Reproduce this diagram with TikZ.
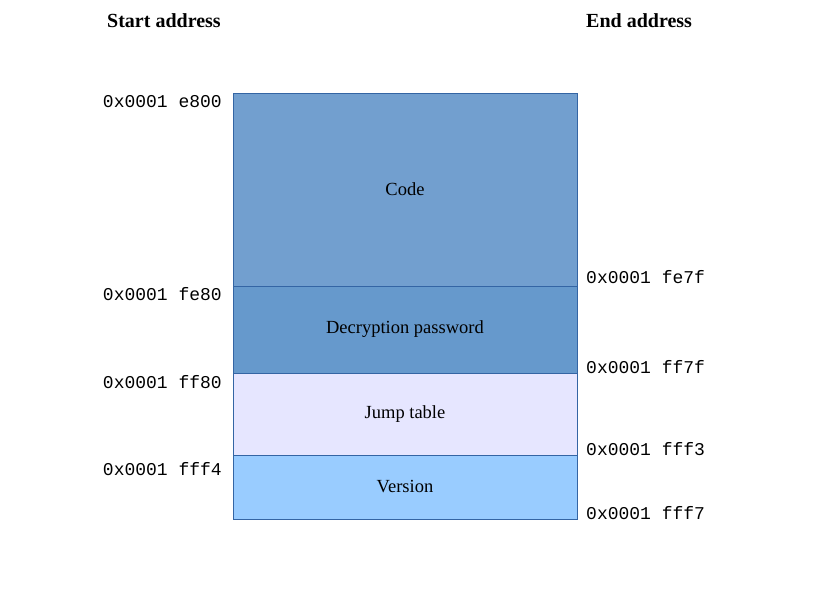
\documentclass[tikz,border=0pt]{standalone}
\usepackage{fontspec}
\setmainfont{Liberation Serif}
\setmonofont{Liberation Mono}
\definecolor{codefill}{HTML}{729FCF}
\definecolor{passfill}{HTML}{6699CC}
\definecolor{jumpfill}{HTML}{E6E6FF}
\definecolor{versionfill}{HTML}{99CCFF}
\definecolor{edgeblue}{HTML}{3465A4}
\begin{document}
\begin{tikzpicture}[x=1pt,y=-1pt,
  region/.style={draw=edgeblue,line width=0.8pt,minimum width=344pt,inner sep=0pt,
    font=\fontsize{18.5}{18.5}\selectfont},
  addr/.style={inner sep=0pt,font=\ttfamily\fontsize{18}{18}\selectfont},
  heading/.style={inner sep=0pt,anchor=west,font=\bfseries\fontsize{20}{20}\selectfont}]
\useasboundingbox (0,0) rectangle (816,613);
% Coordinates
\coordinate (left-col) at (222,0);
\coordinate (right-col) at (586,0);
% Headings
\node[heading] (start-head) at (107,21) {Start address};
\node[heading] (end-head) at (586,21) {End address};
% Memory regions
\node[region,fill=codefill,minimum height=193pt] (code) at (405,189.5) {Code};
\node[region,fill=passfill,minimum height=87pt] (pass) at (405,329.5) {Decryption password};
\node[region,fill=jumpfill,minimum height=82pt] (jump) at (405,414) {Jump table};
\node[region,fill=versionfill,minimum height=64pt] (version) at (405,487) {Version};
% Start addresses
\node[addr,anchor=east] (code-start) at (left-col |- 0,102) {0x0001 e800};
\node[addr,anchor=east] (pass-start) at (left-col |- 0,294) {0x0001 fe80};
\node[addr,anchor=east] (jump-start) at (left-col |- 0,382) {0x0001 ff80};
\node[addr,anchor=east] (version-start) at (left-col |- 0,469) {0x0001 fff4};
% End addresses
\node[addr,anchor=west] (code-end) at (right-col |- 0,277) {0x0001 fe7f};
\node[addr,anchor=west] (pass-end) at (right-col |- 0,367) {0x0001 ff7f};
\node[addr,anchor=west] (jump-end) at (right-col |- 0,449) {0x0001 fff3};
\node[addr,anchor=west] (version-end) at (right-col |- 0,513) {0x0001 fff7};
\end{tikzpicture}
\end{document}
